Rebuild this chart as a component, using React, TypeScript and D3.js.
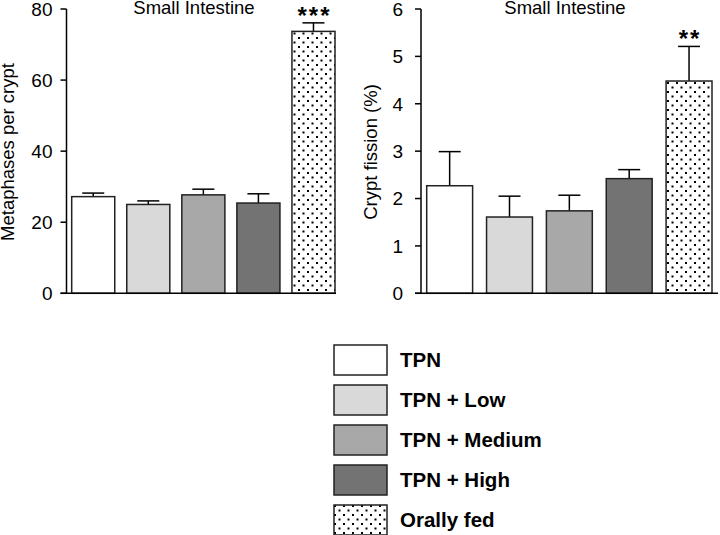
import React from "react";
import * as d3 from "d3";

const groups = ["TPN", "TPN + Low", "TPN + Medium", "TPN + High", "Orally fed"];
const fills = ["#ffffff", "#d9d9d9", "#a8a8a8", "#737373", "url(#dots)"];
const metaphases = [27.2, 25.0, 27.7, 25.4, 73.7];
const metaphasesSem = [1.0, 1.0, 1.6, 2.6, 2.4];
const fission = [2.27, 1.61, 1.74, 2.42, 4.48];
const fissionSem = [0.72, 0.44, 0.33, 0.19, 0.73];
const leftTicks = [0, 20, 40, 60, 80];
const rightTicks = [0, 1, 2, 3, 4, 5, 6];
const leftStars = ["", "", "", "", "***"];
const rightStars = ["", "", "", "", "**"];

const FONT = "'Liberation Sans', Arial, Helvetica, sans-serif";

type PanelProps = {
  values: number[];
  sem: number[];
  ticks: number[];
  yMax: number;
  axisX: number;
  baseEnd: number;
  barStart: number;
  barEnd: number;
  padInner: number;
  yLabel: string;
  yLabelX: number;
  titleX: number;
  stars: string[];
  labelGap: number;
};

function Panel(p: PanelProps) {
  const y = d3.scaleLinear().domain([0, p.yMax]).range([293.3, 9]);
  const x = d3
    .scaleBand<string>()
    .domain(groups)
    .range([p.barStart, p.barEnd])
    .paddingInner(p.padInner)
    .paddingOuter(0);
  const bw = x.bandwidth();
  return (
    <g>
      <text x={p.titleX} y={14} fontSize={18.5} textAnchor="middle" fontFamily={FONT}>
        Small Intestine
      </text>
      <text
        transform={`translate(${p.yLabelX},152) rotate(-90)`}
        fontSize={18.5}
        textAnchor="middle"
        fontFamily={FONT}
      >
        {p.yLabel}
      </text>
      {groups.map((g, i) => {
        const cx = (x(g) as number) + bw / 2;
        const top = y(p.values[i] + p.sem[i]);
        return (
          <g key={g}>
            <line x1={cx} x2={cx} y1={y(p.values[i])} y2={top} stroke="#000" strokeWidth={1.5} />
            <line x1={cx - 11} x2={cx + 11} y1={top} y2={top} stroke="#000" strokeWidth={1.5} />
            <rect
              x={x(g)}
              y={y(p.values[i])}
              width={bw}
              height={y(0) - y(p.values[i])}
              fill={fills[i]}
              stroke="#222"
              strokeWidth={1.5}
            />
            {p.stars[i] && (
              <text
                x={cx + 1}
                y={top + 1}
                fontSize={24}
                fontWeight="bold"
                letterSpacing={2}
                textAnchor="middle"
                fontFamily={FONT}
              >
                {p.stars[i]}
              </text>
            )}
          </g>
        );
      })}
      <line x1={p.axisX} x2={p.axisX} y1={y(p.yMax)} y2={y(0)} stroke="#000" strokeWidth={1.5} />
      <line x1={p.axisX - 6} x2={p.baseEnd} y1={y(0)} y2={y(0)} stroke="#000" strokeWidth={1.5} />
      {p.ticks.map((t) => (
        <g key={t}>
          <line x1={p.axisX - 6} x2={p.axisX} y1={y(t)} y2={y(t)} stroke="#000" strokeWidth={1.5} />
          <text
            x={p.axisX - p.labelGap}
            y={y(t)}
            dy="0.36em"
            fontSize={19}
            textAnchor="end"
            fontFamily={FONT}
          >
            {t}
          </text>
        </g>
      ))}
    </g>
  );
}

export default function App() {
  return (
    <svg width={720} height={535} style={{ position: "absolute", left: 0, top: 0 }}>
      <defs>
        <pattern id="dots" patternUnits="userSpaceOnUse" width={9} height={9}>
          <rect width={9} height={9} fill="#fff" />
          <rect x={1} y={1} width={2} height={2} fill="#000" />
          <rect x={5.5} y={5.5} width={2} height={2} fill="#000" />
        </pattern>
      </defs>
      <rect width={720} height={535} fill="#fff" />
      <Panel
        values={metaphases}
        sem={metaphasesSem}
        ticks={leftTicks}
        yMax={80}
        axisX={66.5}
        baseEnd={336}
        barStart={71.7}
        barEnd={335}
        padInner={0.218}
        yLabel="Metaphases per crypt"
        yLabelX={13.5}
        titleX={194}
        stars={leftStars}
        labelGap={14}
      />
      <Panel
        values={fission}
        sem={fissionSem}
        ticks={rightTicks}
        yMax={6}
        axisX={421}
        baseEnd={718}
        barStart={426.7}
        barEnd={712}
        padInner={0.233}
        yLabel="Crypt fission (%)"
        yLabelX={377}
        titleX={565}
        stars={rightStars}
        labelGap={18}
      />
      {groups.map((g, i) => (
        <g key={g}>
          <rect
            x={334}
            y={345 + i * 40}
            width={53}
            height={30}
            fill={fills[i]}
            stroke="#222"
            strokeWidth={1.5}
          />
          <text
            x={400}
            y={360 + i * 40}
            dy="0.36em"
            fontSize={20.5}
            fontWeight="bold"
            fontFamily={FONT}
          >
            {g}
          </text>
        </g>
      ))}
    </svg>
  );
}
